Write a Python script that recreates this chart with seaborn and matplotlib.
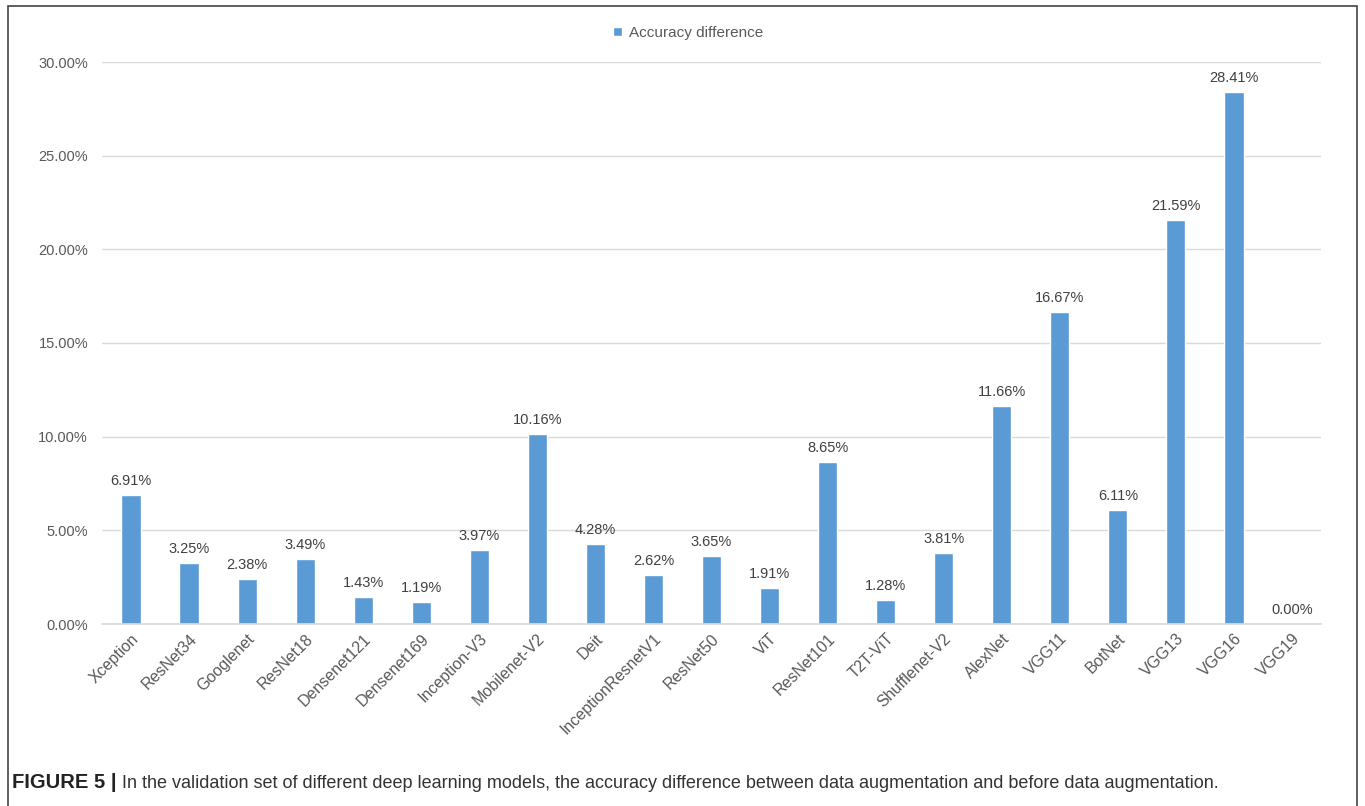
import matplotlib
matplotlib.use("Agg")
import matplotlib.pyplot as plt
import seaborn as sns
import pandas as pd
from matplotlib.patches import Rectangle
from matplotlib.ticker import FuncFormatter, MultipleLocator

models = ["Xception", "ResNet34", "Googlenet", "ResNet18", "Densenet121", "Densenet169",
          "Inception-V3", "Mobilenet-V2", "Deit", "InceptionResnetV1", "ResNet50", "ViT",
          "ResNet101", "T2T-ViT", "Shufflenet-V2", "AlexNet", "VGG11", "BotNet", "VGG13",
          "VGG16", "VGG19"]
acc_diff = [6.91, 3.25, 2.38, 3.49, 1.43, 1.19, 3.97, 10.16, 4.28, 2.62, 3.65, 1.91,
            8.65, 1.28, 3.81, 11.66, 16.67, 6.11, 21.59, 28.41, 0.00]
series_name = "Accuracy difference"
caption_bold = "FIGURE 5 |"
caption_text = ("In the validation set of different deep learning models, the accuracy difference "
                "between data augmentation and before data augmentation.")

sns.set_theme(style="white")
plt.rcParams["font.family"] = ["Liberation Sans", "DejaVu Sans"]

df = pd.DataFrame({"model": models, "value": acc_diff, "series": series_name})

W, H = 1365, 806
fig = plt.figure(figsize=(W / 100, H / 100), dpi=100)
ax = fig.add_axes([102 / W, 1 - 624 / H, (1321 - 102) / W, (624 - 62) / H])

bar_color = "#5B9BD5"
text_color = "#595959"
sns.barplot(data=df, x="model", y="value", hue="series", palette=[bar_color],
            width=0.33, ax=ax, saturation=1, legend=True)

ax.set_ylim(0, 30)
ax.yaxis.set_major_locator(MultipleLocator(5))
ax.yaxis.set_major_formatter(FuncFormatter(lambda v, p: f"{v:.2f}%"))
ax.grid(axis="y", color="#D9D9D9", linewidth=1)
ax.set_axisbelow(True)
for s in ["left", "right", "top"]:
    ax.spines[s].set_visible(False)
ax.spines["bottom"].set_color("#D9D9D9")
ax.set_xlabel("")
ax.set_ylabel("")
ax.tick_params(axis="y", length=0, labelsize=10.5, labelcolor=text_color, pad=10)
ax.tick_params(axis="x", length=0, labelsize=11.5, labelcolor=text_color, pad=5)
plt.setp(ax.get_xticklabels(), rotation=45, ha="right", rotation_mode="anchor")

for cont in ax.containers:
    ax.bar_label(cont, labels=[f"{v:.2f}%" for v in acc_diff], padding=5,
                 fontsize=10.5, color="#404040")

leg = ax.legend(loc="center", bbox_to_anchor=(688 / W, 1 - 33 / H),
                bbox_transform=fig.transFigure, frameon=False, fontsize=11,
                handlelength=0.6, handleheight=0.6, handletextpad=0.4)
for t in leg.get_texts():
    t.set_color(text_color)

fig.add_artist(Rectangle((8 / W, -0.02), (1357 - 8) / W, 1.02 - 6 / H,
                         transform=fig.transFigure, fill=False,
                         edgecolor="#444444", linewidth=1.2))

tb = fig.text(12 / W, 1 - 788 / H, caption_bold, fontsize=14.5, fontweight="bold",
              color="#222222", va="baseline", ha="left")
fig.canvas.draw()
bb = tb.get_window_extent(renderer=fig.canvas.get_renderer())
fig.text((bb.x1 + 6) / W, 1 - 788 / H, caption_text, fontsize=13, color="#333333",
         va="baseline", ha="left")

fig.savefig("out.png", dpi=100)
